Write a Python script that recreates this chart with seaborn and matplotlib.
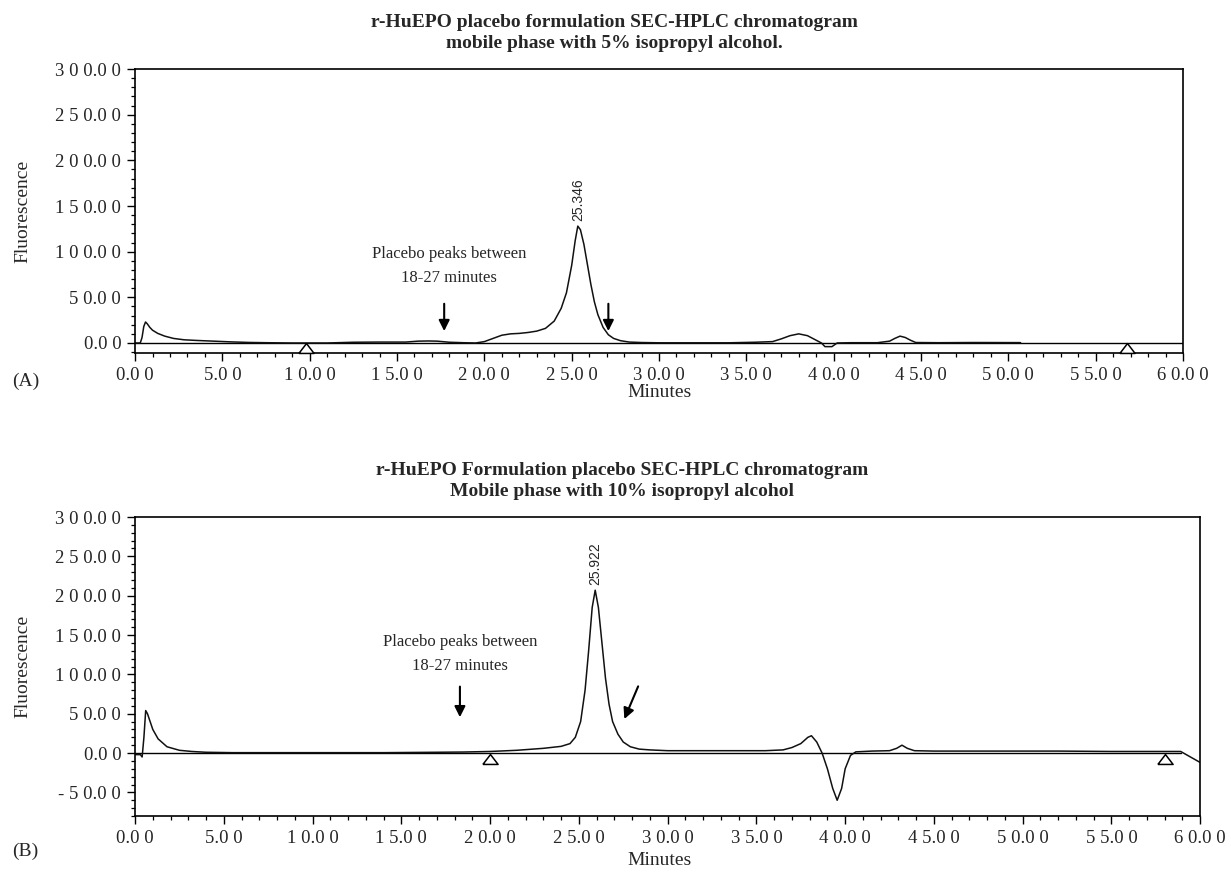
import numpy as np
import pandas as pd
import matplotlib
matplotlib.use("Agg")
import matplotlib.pyplot as plt
from matplotlib.ticker import MultipleLocator, FuncFormatter
import seaborn as sns

# ---------------- data ----------------
# Panel A: 5% isopropyl alcohol
time_a = [0.0, 0.3, 0.4, 0.5, 0.6, 0.7, 0.85, 1.0, 1.3, 1.7, 2.2, 2.8, 3.5, 4.5, 5.5, 6.5,
          7.5, 9.0, 11.0, 12.5, 14.0, 15.5, 16.2, 16.8, 17.3, 18.0, 18.8, 19.5, 20.0, 20.5,
          21.0, 21.5, 22.0, 22.5, 23.0, 23.5, 24.0, 24.4, 24.7, 25.0, 25.2, 25.35, 25.5,
          25.7, 25.9, 26.1, 26.3, 26.5, 26.8, 27.1, 27.4, 27.8, 28.3, 29.0, 30.0, 32.0,
          34.0, 35.5, 36.5, 37.0, 37.5, 38.0, 38.5, 39.0, 39.3, 39.5, 39.9, 40.2, 41.0,
          42.5, 43.2, 43.5, 43.8, 44.1, 44.4, 44.7, 46.0, 48.0, 50.7]
signal_a = [0.0, 0.0, 6.0, 18.0, 23.0, 21.0, 17.0, 14.0, 10.5, 7.5, 5.0, 3.5, 2.8, 2.0, 1.2, 0.6,
            0.3, 0.0, 0.0, 0.8, 1.0, 1.0, 2.0, 2.2, 2.0, 0.8, 0.3, 0.0, 1.5, 5.0,
            8.5, 10.0, 10.5, 11.5, 13.0, 16.0, 24.0, 38.0, 55.0, 85.0, 112.0, 128.0, 124.0,
            108.0, 86.0, 64.0, 45.0, 31.0, 17.0, 9.0, 5.0, 2.5, 1.0, 0.5, 0.2, 0.2,
            0.2, 0.8, 1.5, 4.5, 8.0, 10.0, 8.0, 3.0, 0.0, -4.0, -4.0, 0.0, 0.3,
            0.3, 2.0, 5.0, 7.5, 6.0, 3.0, 0.5, 0.3, 0.5, 0.4]

# Panel B: 10% isopropyl alcohol
time_b = [0.0, 0.3, 0.4, 0.5, 0.6, 0.7, 0.85, 1.0, 1.3, 1.8, 2.5, 3.2, 4.0, 5.5, 8.0, 11.0,
          14.0, 17.0, 18.5, 20.0, 21.5, 23.0, 24.0, 24.5, 24.8, 25.1, 25.35, 25.55, 25.75,
          25.92, 26.1, 26.3, 26.5, 26.7, 26.9, 27.2, 27.5, 27.9, 28.4, 29.0, 30.0, 33.0,
          35.5, 36.5, 37.0, 37.5, 37.9, 38.1, 38.4, 38.7, 39.0, 39.3, 39.55, 39.8, 40.0,
          40.3, 40.6, 41.5, 42.5, 42.9, 43.2, 43.5, 43.9, 45.0, 48.0, 52.0, 55.0, 58.9, 60.0]
signal_b = [-2.0, -2.0, -5.0, 20.0, 54.0, 50.0, 40.0, 30.0, 18.0, 8.0, 3.5, 2.0, 1.0, 0.5, 0.5, 0.5,
            0.5, 1.0, 1.3, 2.0, 3.5, 6.0, 8.5, 12.0, 20.0, 40.0, 80.0, 130.0, 185.0,
            207.0, 185.0, 140.0, 95.0, 62.0, 40.0, 24.0, 14.0, 8.0, 5.0, 4.0, 3.0, 3.0,
            3.0, 4.0, 7.0, 12.0, 20.0, 22.0, 14.0, 0.0, -20.0, -45.0, -60.0, -45.0, -20.0,
            -3.0, 1.5, 2.5, 3.0, 6.0, 10.0, 6.0, 3.0, 2.5, 2.5, 2.5, 2.0, 2.0, -12.0]

peak_time_a, peak_val_a, peak_lbl_a = 25.35, 128.0, "25.346"
peak_time_b, peak_val_b, peak_lbl_b = 25.92, 207.0, "25.922"
tri_a = [9.8, 56.8]
tri_b = [20.0, 58.0]

titles = [
    "r-HuEPO placebo formulation SEC-HPLC chromatogram\nmobile phase with 5% isopropyl alcohol.",
    "r-HuEPO Formulation placebo SEC-HPLC chromatogram\nMobile phase with 10% isopropyl alcohol",
]
note = "Placebo peaks between\n18-27 minutes"

# ---------------- style ----------------
sns.set_style("ticks")
plt.rcParams["font.family"] = ["Liberation Serif", "DejaVu Serif"]

fig = plt.figure(figsize=(12.31, 8.76), dpi=100)
axA = fig.add_axes([0.1097, 0.597, 0.961 - 0.1097, 0.9212 - 0.597])
axB = fig.add_axes([0.1097, 0.0685, 0.975 - 0.1097, 0.4098 - 0.0685])

flat_triangle = [(-1.0, -0.65), (1.0, -0.65), (0.0, 0.65), (-1.0, -0.65)]


def spaced(v, pos=None):
    s = f"{v:.2f}"
    out = ""
    for i, ch in enumerate(s):
        out += ch
        if i < len(s) - 1 and ch != "." and s[i + 1] != ".":
            out += " "
    return out


def style_axes(ax, ylo, yhi, ymin_label):
    ax.set_xlim(0, 60)
    ax.set_ylim(ylo, yhi)
    ax.xaxis.set_major_locator(MultipleLocator(5))
    ax.xaxis.set_minor_locator(MultipleLocator(1))
    ax.yaxis.set_major_locator(MultipleLocator(50))
    ax.yaxis.set_minor_locator(MultipleLocator(10))
    ax.xaxis.set_major_formatter(FuncFormatter(spaced))
    ax.yaxis.set_major_formatter(
        FuncFormatter(lambda v, p: spaced(v) if v >= ymin_label - 1e-6 else ""))
    ax.tick_params(axis="both", which="major", direction="out", length=6, width=1.0,
                   labelsize=13.5, color="black", pad=4)
    ax.tick_params(axis="both", which="minor", direction="out", length=3, width=0.9,
                   color="black")
    for sp in ax.spines.values():
        sp.set_color("black")
        sp.set_linewidth(1.2)
        sp.set_visible(True)
    ax.set_xlabel("")


dfA = pd.DataFrame({"Minutes": time_a, "Fluorescence": signal_a})
dfB = pd.DataFrame({"Minutes": time_b, "Fluorescence": signal_b})

for ax, df, tris, (pt, pv, pl), ttl, ylo, ymin_label in [
    (axA, dfA, tri_a, (peak_time_a, peak_val_a, peak_lbl_a), titles[0], -11, 0),
    (axB, dfB, tri_b, (peak_time_b, peak_val_b, peak_lbl_b), titles[1], -80, -50),
]:
    ax.axhline(0, color="black", lw=1.0, xmin=0, xmax=(58.9 / 60 if ax is axB else 1))
    sns.lineplot(data=df, x="Minutes", y="Fluorescence", ax=ax, color="#111111",
                 lw=1.1, estimator=None, sort=False)
    ax.scatter(tris, [-5.5 if ax is axA else -7.5] * len(tris), marker=flat_triangle,
               s=120, facecolor="white", edgecolor="black", linewidth=1.1, zorder=5,
               clip_on=False)
    ax.text(pt, pv + 6, pl, rotation=90, ha="center", va="bottom", fontsize=10,
            family=["Liberation Sans", "DejaVu Sans"])
    ax.set_title(ttl, fontsize=14, fontweight="bold", loc="center", pad=15,
                 linespacing=1.35, x=0.457)
    style_axes(ax, ylo, 300, ymin_label)
    ax.set_ylabel("Fluorescence", fontsize=14, labelpad=17)

# annotations panel A
axA.text(18.0, 84, note, ha="center", va="center", fontsize=12, linespacing=1.7)
axA.annotate("", xy=(17.7, 10), xytext=(17.7, 46),
             arrowprops=dict(arrowstyle="-|>", color="black", lw=1.5, mutation_scale=16))
axA.annotate("", xy=(27.1, 10), xytext=(27.1, 46),
             arrowprops=dict(arrowstyle="-|>", color="black", lw=1.5, mutation_scale=16))

# annotations panel B
axB.text(18.3, 126, note, ha="center", va="center", fontsize=12, linespacing=1.7)
axB.annotate("", xy=(18.3, 42), xytext=(18.3, 88),
             arrowprops=dict(arrowstyle="-|>", color="black", lw=1.5, mutation_scale=16))
axB.annotate("", xy=(27.5, 40), xytext=(28.4, 88),
             arrowprops=dict(arrowstyle="-|>", color="black", lw=1.5, mutation_scale=16))

fig.text(0.536, 0.552, "Minutes", ha="center", va="center", fontsize=14)
fig.text(0.536, 0.018, "Minutes", ha="center", va="center", fontsize=14)
fig.text(0.010, 0.565, "(A)", ha="left", va="center", fontsize=14)
fig.text(0.010, 0.028, "(B)", ha="left", va="center", fontsize=14)

fig.savefig("out.png", dpi=100)
